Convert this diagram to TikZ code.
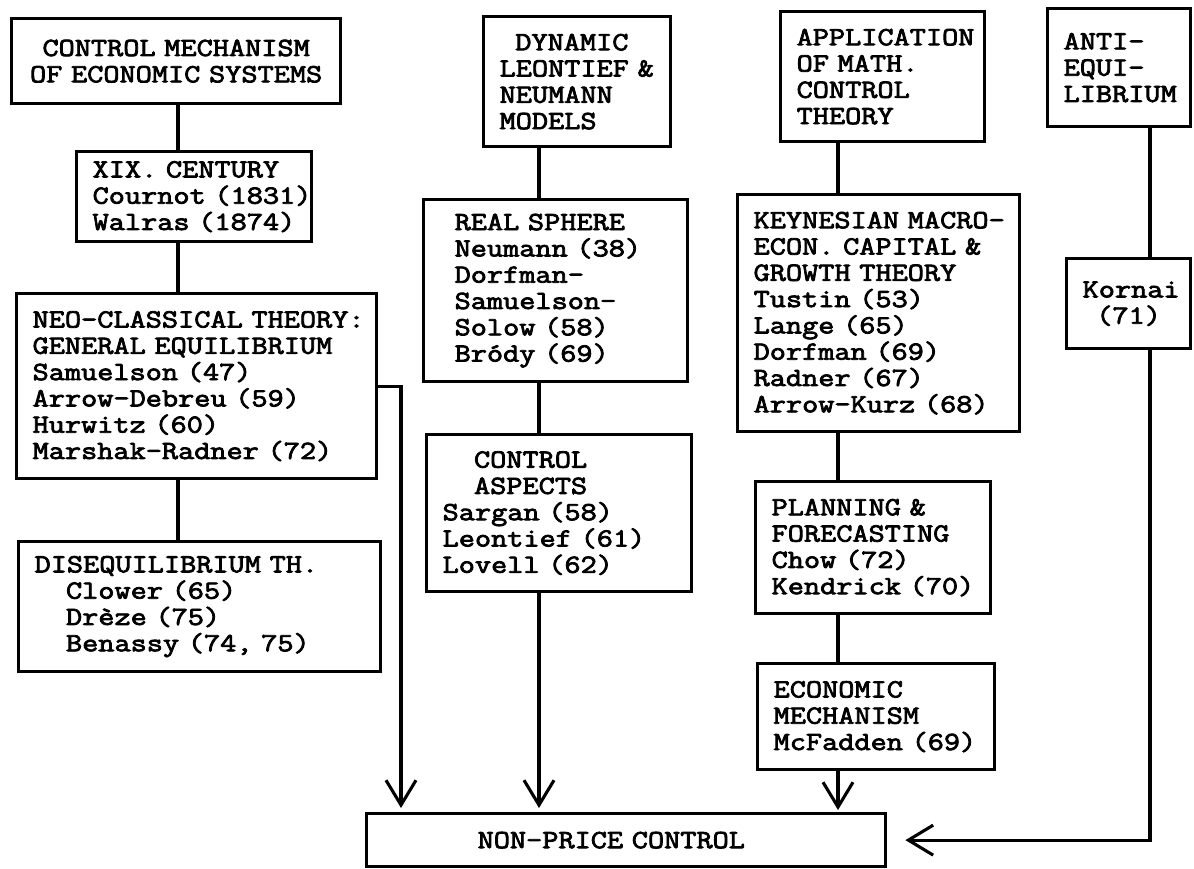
\documentclass[tikz,border=0pt]{standalone}
\usepackage{fontspec}
\newfontfamily\typewriter{Latin Modern Mono}[FakeStretch=1.2, FakeBold=3]
\usetikzlibrary{arrows.meta}

\newcommand{\typefont}{\fontsize{18.6pt}{18.7pt}\typewriter\frenchspacing\hyphenpenalty=10000\exhyphenpenalty=10000\spaceskip=\fontcharwd\font`\x\relax\xspaceskip=\spaceskip}

\begin{document}
\begin{tikzpicture}[
		% one unit = one pixel of the scanned chart
		x=0.025cm, y=-0.025cm,
		box/.style = {draw, line width=2.3pt, anchor=north west, align=left, inner xsep=0.4cm, inner ysep=0pt, font=\typefont},
		wire/.style = {draw, line width=2.2pt},
		>={Straight Barb[length=0.62cm, width=0.75cm]}
		]
		\useasboundingbox (0,0) rectangle (1194,868);
		
		% --- COLUMN 1: CONTROL MECHANISM ---
		\node [box, align=center, inner xsep=0.2cm, text width=7.825cm, minimum height=2.125cm] (mech) at (10,17) {CONTROL MECHANISM\\OF ECONOMIC SYSTEMS};
		\node [box, text width=5.075cm, minimum height=2.25cm] (xix) at (75,150) {XIX. CENTURY\\Cournot~(1831)\\Walras (1874)};
		\node [box, text width=8.2cm, minimum height=4.625cm] (neo) at (15,292) {\mbox{NEO-CLASSICAL THEORY:}\\GENERAL EQUILIBRIUM\\Samuelson (47)\\Arrow-Debreu (59)\\Hurwitz (60)\\Marshak-Radner (72)};
		\node [box, text width=8.25cm, minimum height=3.25cm] (diseq) at (17,540) {DISEQUILIBRIUM TH.\\\hspace*{1.2em}Clower (65)\\\hspace*{1.2em}Drèze (75)\\\hspace*{1.2em}Benassy (74, 75)};
		
		% --- COLUMN 2: LEONTIEF & NEUMANN ---
		\node [box, text width=3.875cm, minimum height=3.25cm] (dyn) at (482,15) {\hspace*{0.6em}DYNAMIC\\\mbox{LEONTIEF \&}\\NEUMANN\\MODELS};
		\node [box, inner xsep=0.775cm, text width=5.05cm, minimum height=4.55cm] (real) at (422,198) {REAL SPHERE\\Neumann (38)\\Dorfman-\\Samuelson-\\Solow (58)\\Bródy (69)};
		\node [box, text width=5.825cm, minimum height=3.925cm] (aspects) at (425,433) {\hspace*{1.2em}CONTROL\\\hspace*{1.2em}ASPECTS\\Sargan (58)\\Leontief (61)\\Lovell (62)};
		
		% --- COLUMN 3: MATH. CONTROL THEORY ---
		\node [box, text width=4.3cm, minimum height=3.25cm] (app) at (779,10) {APPLICATION\\OF MATH.\\CONTROL\\THEORY};
		\node [box, text width=6.25cm, minimum height=5.925cm] (keynes) at (736,193) {\mbox{KEYNESIAN MACRO-}\\ECON. CAPITAL \&\\GROWTH THEORY\\Tustin (53)\\Lange (65)\\Dorfman (69)\\Radner (67)\\Arrow-Kurz (68)};
		\node [box, text width=5.075cm, minimum height=3.3cm] (plan) at (754,480) {PLANNING \&\\FORECASTING\\Chow (72)\\\mbox{Kendrick (70)}};
		\node [box, text width=5.125cm, minimum height=2.65cm] (econ) at (756,662) {ECONOMIC\\MECHANISM\\\mbox{McFadden (69)}};
		
		% --- COLUMN 4: ANTI-EQUILIBRIUM ---
		\node [box, text width=2.775cm, minimum height=2.95cm] (anti) at (1046,7) {ANTI-\\EQUI-\\LIBRIUM};
		\node [box, align=center, text width=2.3cm, minimum height=2.25cm] (kornai) at (1065,257) {Kornai\\(71)};
		
		% --- TARGET ---
		\node [box, inner xsep=2.775cm, text width=7.425cm, minimum height=1.325cm] (npc) at (365,812) {NON-PRICE CONTROL};
		
		% vertical lanes of the connectors
		\coordinate (lane1) at (178,0);
		\coordinate (lane2) at (539,0);
		\coordinate (lane3) at (838,0);
		\coordinate (lane4) at (1150,0);
		\coordinate (side) at (401,0);
		
		% --- CONNECTIONS ---
		\draw [wire] (mech.south -| lane1) -- (xix.north -| lane1);
		\draw [wire] (xix.south -| lane1) -- (neo.north -| lane1);
		\draw [wire] (neo.south -| lane1) -- (diseq.north -| lane1);
		\draw [wire] (dyn.south -| lane2) -- (real.north -| lane2);
		\draw [wire] (real.south -| lane2) -- (aspects.north -| lane2);
		\draw [wire] (app.south -| lane3) -- (keynes.north -| lane3);
		\draw [wire] (keynes.south -| lane3) -- (plan.north -| lane3);
		\draw [wire] (plan.south -| lane3) -- (econ.north -| lane3);
		\draw [wire] (anti.south -| lane4) -- (kornai.north -| lane4);
		
		% arrows into the non-price control box
		\draw [wire, ->, shorten >=0.1cm] (neo.east) -| (npc.north -| side);
		\draw [wire, ->, shorten >=0.1cm] (aspects.south -| lane2) -- (npc.north -| lane2);
		\draw [wire, ->, shorten >=0.05cm] (econ.south -| lane3) -- (npc.north -| lane3);
		\draw [wire, ->, shorten >=0.45cm] (kornai.south -| lane4) |- (npc.east);
		
	\end{tikzpicture}
\end{document}
